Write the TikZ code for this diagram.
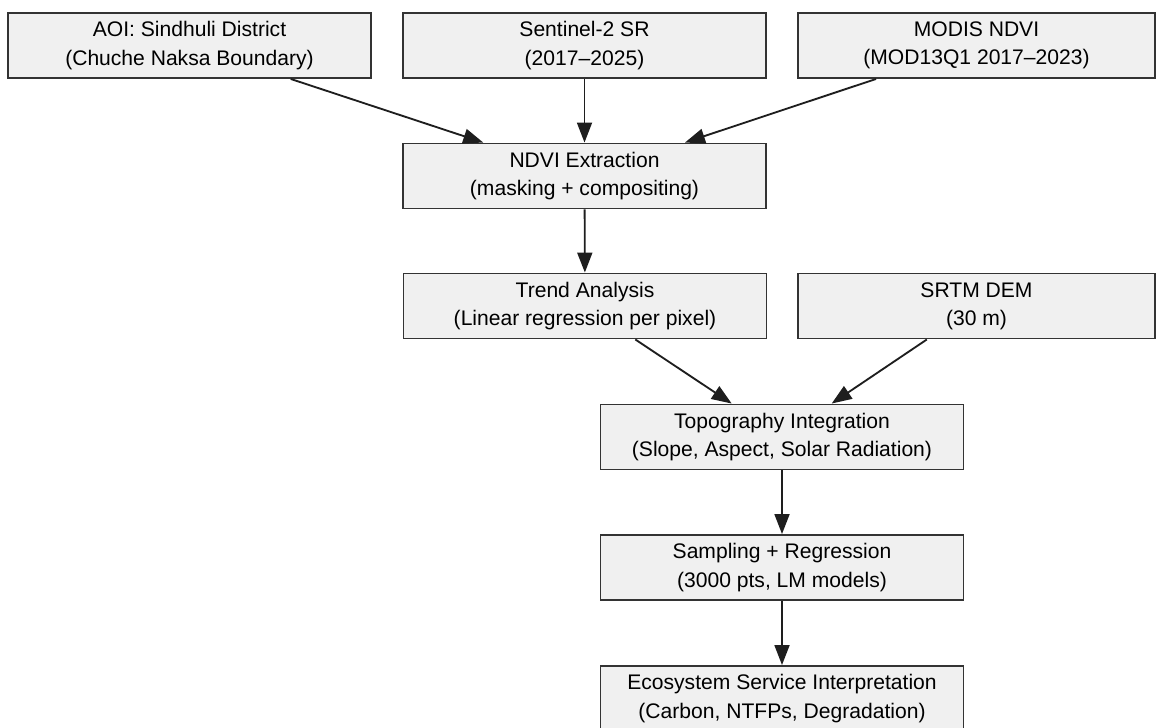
\documentclass[tikz,border=0pt]{standalone}
\usepackage{fontspec}
\setmainfont{Liberation Sans}
\usetikzlibrary{arrows, arrows.meta}
\definecolor{boxfill}{HTML}{F0F0F0}
\definecolor{boxline}{HTML}{333333}
\definecolor{arrowline}{HTML}{1E1E1E}

\begin{document}
\begin{tikzpicture}[
    box/.style={rectangle, draw=boxline, fill=boxfill, line width=1.1pt, minimum width=7.26cm, minimum height=1.3cm, align=center, font=\fontsize{12}{16}\selectfont},
    flow/.style={-{Triangle[length=0.4cm, width=0.3cm]}, line width=1.05pt, draw=arrowline}
  ]
    \useasboundingbox (0,0) rectangle (23.12,-14.54);

    \node[box] (1) at (3.79,-0.91) {AOI: Sindhuli District\\(Chuche Naksa Boundary)};
    \node[box] (2) at (11.69,-0.91) {Sentinel-2 SR\\(2017--2025)};
    \node[box, minimum width=7.14cm] (3) at (19.53,-0.91) {MODIS NDVI\\(MOD13Q1 2017--2023)};
    \node[box] (4) at (11.69,-3.52) {NDVI Extraction\\(masking + compositing)};
    \node[box] (5) at (11.70,-6.12) {Trend Analysis\\(Linear regression per pixel)};
    \node[box, minimum width=7.14cm] (6) at (19.53,-6.12) {SRTM DEM\\(30 m)};
    \node[box] (7) at (15.64,-8.74) {Topography Integration\\(Slope, Aspect, Solar Radiation)};
    \node[box] (8) at (15.64,-11.35) {Sampling + Regression\\(3000 pts, LM models)};
    \node[box] (9) at (15.64,-13.97) {Ecosystem Service Interpretation\\(Carbon, NTFPs, Degradation)};

    \draw[flow] (1) -- (4);
    \draw[flow] (2) -- (4);
    \draw[flow] (3) -- (4);
    \draw[flow] (4) -- (5);
    \draw[flow] (5) -- (7);
    \draw[flow] (6) -- (7);
    \draw[flow] (7) -- (8);
    \draw[flow] (8) -- (9);
  \end{tikzpicture}
\end{document}
